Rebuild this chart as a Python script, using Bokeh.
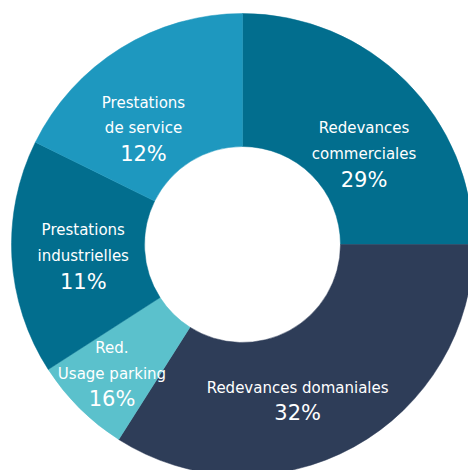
import math
from bokeh.plotting import figure
from bokeh.models import Range1d, ColumnDataSource
from bokeh.embed import file_html
from bokeh.resources import INLINE
from bokeh.core.properties import value

# ---- data ----
categories = ["Redevances commerciales", "Redevances domaniales", "Red. Usage parking",
              "Prestations industrielles", "Prestations de service"]
name_lines = [["Redevances", "commerciales"], ["Redevances domaniales"], ["Red.", "Usage parking"],
              ["Prestations", "industrielles"], ["Prestations", "de service"]]
# wedge shares as drawn in the picture (clockwise from 12 o'clock)
shares = [25.0, 34.0, 6.9, 16.4, 17.7]
# percentages as printed on the chart
pct_labels = ["29%", "32%", "16%", "11%", "12%"]
colors = ["#026E8E", "#2E3D58", "#5BC1CC", "#026E8E", "#1E98BF"]

# ---- layout ----
W, H = 468, 470
CX, CY = 242, 226           # donut centre (data units = pixels)
R_OUT, R_IN = 231, 98
# label anchor (baseline of the percentage line) in polar layout terms
label_deg = [28.1, -71.9, -130.1, -166.9, 137.5]
label_rad = [137.8, 177.4, 202.6, 163.5, 134.3]
LINE = 25.6

total = sum(shares)
starts, ends = [], []
c = 0.0
for s in shares:
    starts.append(math.pi / 2 - 2 * math.pi * c / total)
    c += s
    ends.append(math.pi / 2 - 2 * math.pi * c / total)

src = ColumnDataSource(dict(cat=categories, start=starts, end=ends, color=colors))

# data x = screen x, data y = 470 - screen y
p = figure(width=W, height=H, x_range=Range1d(0, W), y_range=Range1d(470 - H, 470),
           output_backend="svg", toolbar_location=None, min_border=0)
p.axis.visible = False
p.grid.visible = False
p.outline_line_color = None
p.background_fill_color = "white"
p.border_fill_color = "white"

p.annular_wedge(x=CX, y=CY, inner_radius=R_IN, outer_radius=R_OUT,
                start_angle="start", end_angle="end", direction="clock",
                fill_color="color", line_color="color", line_width=0.5, source=src)

nx, ny, nt = [], [], []
px, py = [], []
for i in range(len(categories)):
    a = math.radians(label_deg[i])
    x = CX + label_rad[i] * math.cos(a)
    y = CY + label_rad[i] * math.sin(a)
    px.append(x); py.append(y)
    lines = name_lines[i]
    for j, t in enumerate(lines):
        nx.append(x); ny.append(y + LINE * (len(lines) - j)); nt.append(t)

p.text(x=nx, y=ny, text=nt, text_font=value("DejaVu Sans"), text_font_size="15px",
       text_color="white", text_align="center", text_baseline="alphabetic")
p.text(x=px, y=py, text=pct_labels, text_font=value("DejaVu Sans"), text_font_size="21px",
       text_color="white", text_align="center", text_baseline="alphabetic")

open("out.html", "w").write(file_html(p, INLINE))
